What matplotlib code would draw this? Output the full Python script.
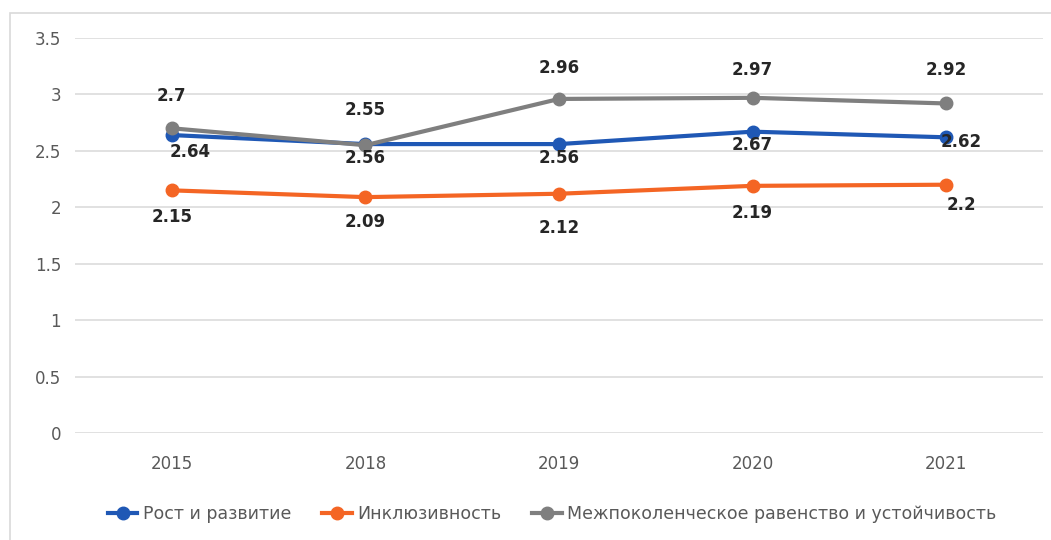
import matplotlib.pyplot as plt
import matplotlib.lines as mlines
import numpy as np

years = ["2015", "2018", "2019", "2020", "2021"]
growth = [2.64, 2.56, 2.56, 2.67, 2.62]
inclusion = [2.15, 2.09, 2.12, 2.19, 2.2]
sustainability = [2.7, 2.55, 2.96, 2.97, 2.92]

names = ["Рост и развитие", "Инклюзивность",
         "Межпоколенческое равенство и устойчивость"]
colors = ["#1F58B5", "#F46524", "#7F7F7F"]

# label offsets in pixels (dx, dy), per point
px = 1 / 1.389
offsets = [
    [(18, -17), (0, -14), (0, -14), (0, -13), (15, -5)],
    [(0, -27), (0, -25), (0, -34), (0, -27), (15, -20)],
    [(0, 32), (0, 35), (0, 31), (0, 28), (0, 33)],
]

fig = plt.figure(figsize=(10.51, 5.40), dpi=100)
ax = fig.add_axes([75 / 1051, 107 / 540, 968 / 1051, 395 / 540])

x = np.arange(len(years))
series = [growth, inclusion, sustainability]
# grey drawn last so it sits on top, like the reference
for vals, col, name in zip(series, colors, names):
    ax.plot(x, vals, color=col, lw=3.0, marker="o", ms=9, label=name,
            solid_capstyle="round", zorder=3)

for vals, offs in zip(series, offsets):
    for xi, v, (dx, dy) in zip(x, vals, offs):
        ax.annotate(f"{v:g}", (xi, v), xytext=(dx * px, dy * px),
                    textcoords="offset points", ha="center", va="center",
                    fontsize=12, fontweight="bold", color="#262626", zorder=5)

ax.set_xlim(-0.5, len(years) - 0.5)
ax.set_ylim(0, 3.5)
ax.set_yticks(np.arange(0, 3.51, 0.5))
ax.set_yticklabels([f"{t:g}" for t in np.arange(0, 3.51, 0.5)])
ax.set_xticks(x)
ax.set_xticklabels(years)
ax.tick_params(axis="both", length=0, labelsize=12, labelcolor="#595959")
ax.tick_params(axis="y", pad=10)
ax.tick_params(axis="x", pad=16)
ax.grid(axis="y", color="#D9D9D9", lw=1.1)
ax.set_axisbelow(True)
for s in ax.spines.values():
    s.set_visible(False)

handles = [mlines.Line2D([], [], color=c, lw=3.0, marker="o", ms=9) for c in colors]
fig.legend(handles, names, loc="center", bbox_to_anchor=(552 / 1051, 1 - 514 / 540),
           ncol=3, frameon=False, fontsize=12.5, labelcolor="#595959",
           handlelength=1.7, handletextpad=0.3, columnspacing=1.8)

# light frame around the chart area (only top and left are visible)
fig.add_artist(plt.Rectangle((10 / 1051, -0.1), 1.2, 1 - 13 / 540 + 0.1,
                             transform=fig.transFigure, fill=False,
                             edgecolor="#D9D9D9", lw=1.2))

fig.savefig("out.png", dpi=100)
